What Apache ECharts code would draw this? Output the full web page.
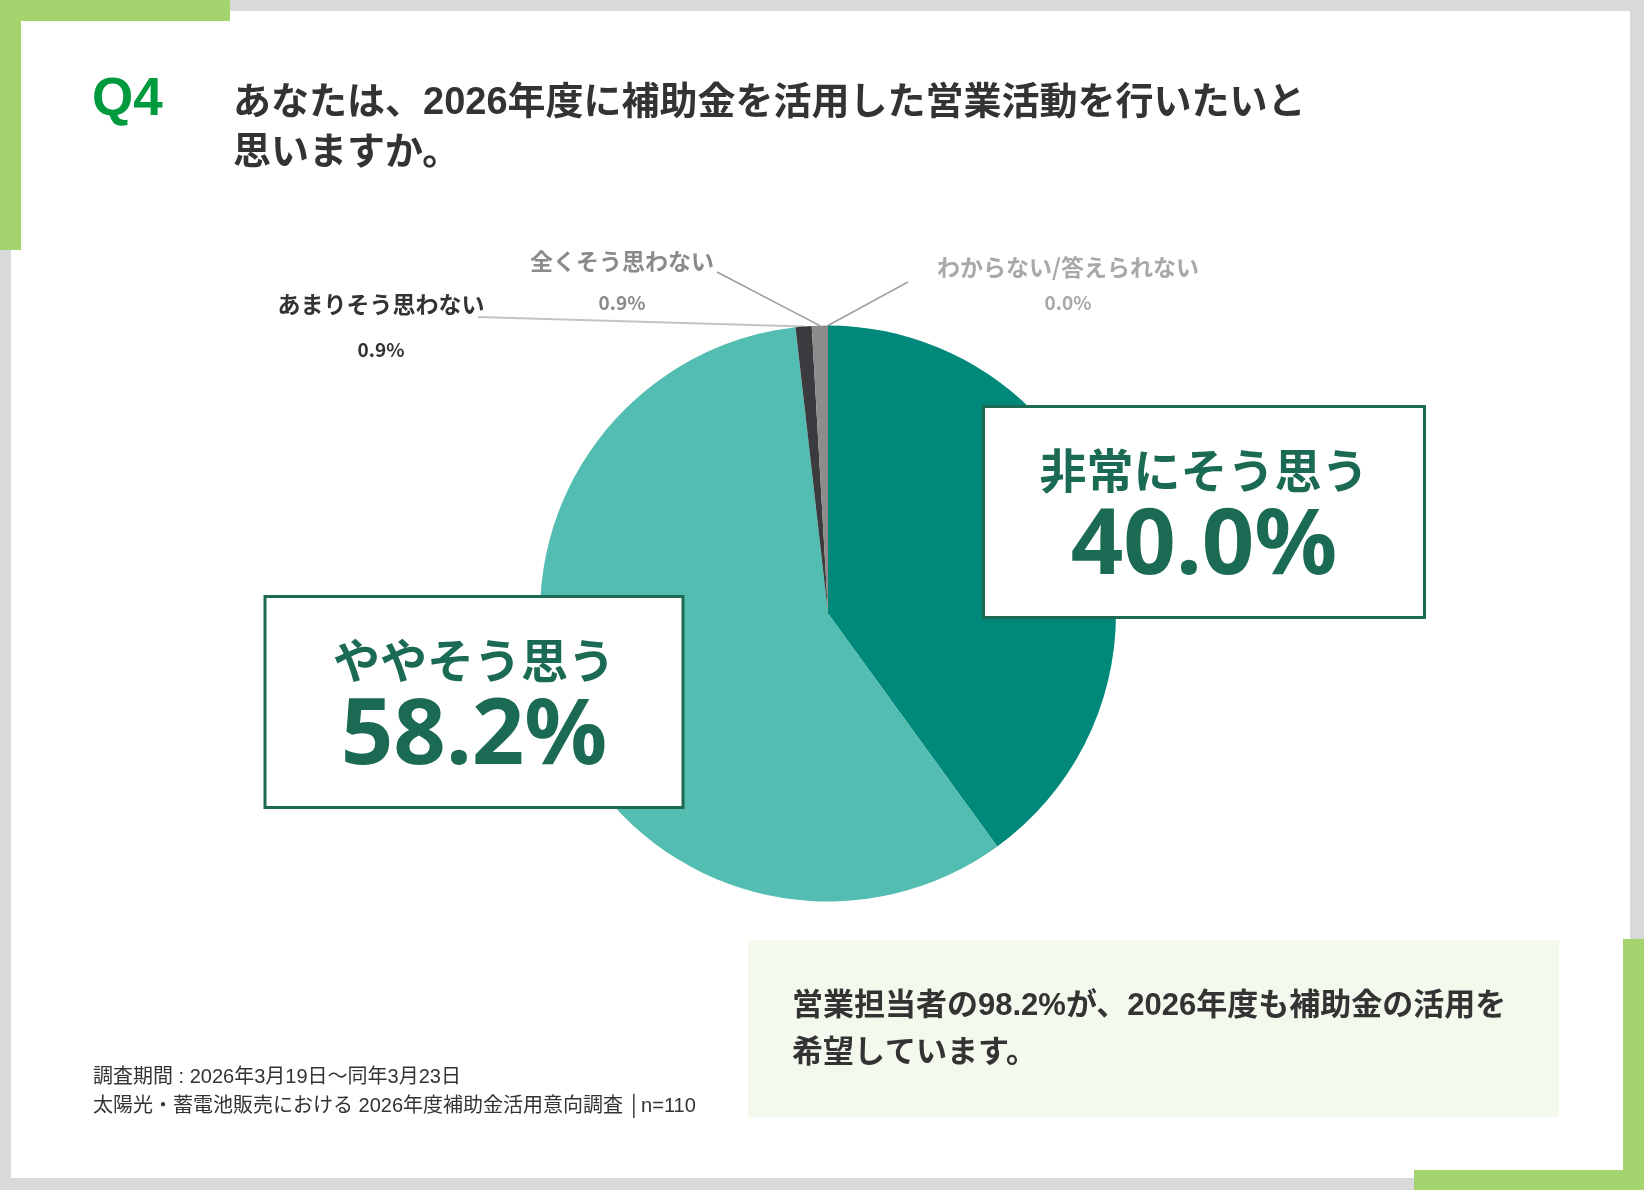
<!DOCTYPE html>
<html lang="ja">
<head>
<meta charset="utf-8">
<title>Q4 2026年度 補助金活用意向</title>
<script src="https://cdn.jsdelivr.net/npm/echarts@6/dist/echarts.min.js"></script>
<style>
    html, body { margin: 0; padding: 0; background: #d9d9d9; }
    #main { width: 1644px; height: 1190px; }
</style>
</head>
<body>
<div id="main"></div>
<script>
// 回答カテゴリと割合（n=110）
var categories = ['非常にそう思う', 'ややそう思う', 'あまりそう思わない', '全くそう思わない', 'わからない/答えられない'];
var shares = [40.0, 58.2, 0.9, 0.9, 0.0];
var sliceColors = ['#00897a', '#52bdb0', '#3b3a3e', '#8c8c8c', '#bdbdbd'];

var questionNo = 'Q4';
var titleLines = ['あなたは、2026年度に補助金を活用した営業活動を行いたいと', '思いますか。'];
var summaryLines = ['営業担当者の98.2%が、2026年度も補助金の活用を', '希望しています。'];
var noteLines = ['調査期間 : 2026年3月19日～同年3月23日', '太陽光・蓄電池販売における 2026年度補助金活用意向調査 │n=110'];

var JP = '"Noto Sans CJK JP", sans-serif';
var LAT = '"Liberation Sans", "Noto Sans CJK JP", sans-serif';

// ラベルの置き場所（中心）と引き出し線の端
var labelSpots = [
    {x: 1204, y: 512},
    {x: 474, y: 702},
    {x: 381, y: 327, tail: [478, 317]},
    {x: 622, y: 282, tail: [717, 272]},
    {x: 1068, y: 285, tail: [908, 282]}
];

function pctText(p) {
    return '{n|' + p.name + '}\n{v|' + p.value.toFixed(1) + '%}';
}

function bigLabel(boxW) {
    return {
        show: true,
        formatter: pctText,
        backgroundColor: '#fff',
        borderColor: '#1d6a52',
        borderWidth: 3,
        padding: [30, 0, 22, 0],
        width: boxW,
        align: 'center',
        rich: {
            n: {fontFamily: JP, fontWeight: 'bold', fontSize: 47, lineHeight: 64, color: '#1b6b54', align: 'center'},
            v: {fontFamily: '"Noto Sans", sans-serif', fontWeight: 'bold', fontSize: 92, lineHeight: 92, color: '#1b6b54', align: 'center'}
        }
    };
}

function smallLabel(color, lh) {
    return {
        show: true,
        formatter: pctText,
        align: 'center',
        rich: {
            n: {fontFamily: JP, fontWeight: 'bold', fontSize: 23, lineHeight: lh, color: color, align: 'center'},
            v: {fontFamily: JP, fontWeight: 'bold', fontSize: 19, lineHeight: lh, color: color, align: 'center'}
        }
    };
}

var labels = [
    bigLabel(438),
    bigLabel(415),
    smallLabel('#333333', 45),
    smallLabel('#8a8a8a', 41),
    smallLabel('#a8a8a8', 35)
];
var lineColors = [null, null, '#c4c4c4', '#9a9a9a', '#a0a0a0'];

var pieData = categories.map(function (name, i) {
    return {
        name: name,
        value: shares[i],
        itemStyle: {color: sliceColors[i]},
        label: labels[i],
        labelLine: lineColors[i]
            ? {show: true, lineStyle: {color: lineColors[i], width: i === 2 ? 2 : 1.5}}
            : {show: false}
    };
});

function textEl(x, y, text, font, fill) {
    return {
        type: 'text', x: x, y: y, silent: true,
        style: {text: text, font: font, fill: fill, verticalAlign: 'middle'}
    };
}

function rectEl(x, y, w, h, fill) {
    return {type: 'rect', silent: true, shape: {x: x, y: y, width: w, height: h}, style: {fill: fill}};
}

var green = '#a5d46e';
var chart = echarts.init(document.getElementById('main'));
chart.setOption({
    animation: false,
    graphic: {
        elements: [
            rectEl(11, 11, 1619, 1167, '#ffffff'),
            rectEl(0, 0, 230, 21, green),
            rectEl(0, 0, 21, 250, green),
            rectEl(1623, 939, 21, 251, green),
            rectEl(1414, 1170, 230, 20, green),
            rectEl(748, 940, 811, 177, '#f4f9ee'),
            textEl(92, 100, questionNo, 'bold 53px "Liberation Sans", Arial, sans-serif', '#009a3e'),
            textEl(233, 104, titleLines[0], 'bold 38px ' + LAT, '#333333'),
            textEl(233, 154, titleLines[1], 'bold 38px ' + LAT, '#333333'),
            textEl(792, 1006, summaryLines[0], 'bold 31px ' + LAT, '#333333'),
            textEl(792, 1053, summaryLines[1], 'bold 31px ' + LAT, '#333333'),
            textEl(93, 1077, noteLines[0], '20px ' + LAT, '#333333'),
            textEl(93, 1106, noteLines[1], '20px ' + LAT, '#333333')
        ]
    },
    series: [{
        type: 'pie',
        center: [828, 613.5],
        radius: 288,
        startAngle: 90,
        clockwise: true,
        avoidLabelOverlap: false,
        silent: true,
        emphasis: {disabled: true},
        itemStyle: {borderWidth: 0},
        labelLayout: function (p) {
            var s = labelSpots[p.dataIndex];
            var out = {x: s.x, y: s.y, align: 'center', verticalAlign: 'middle'};
            if (s.tail && p.labelLinePoints && p.labelLinePoints.length) {
                var a = p.labelLinePoints[0];
                out.labelLinePoints = [
                    [a[0], a[1]],
                    [(a[0] + s.tail[0]) / 2, (a[1] + s.tail[1]) / 2],
                    s.tail
                ];
            }
            return out;
        },
        data: pieData
    }]
});
</script>
</body>
</html>
